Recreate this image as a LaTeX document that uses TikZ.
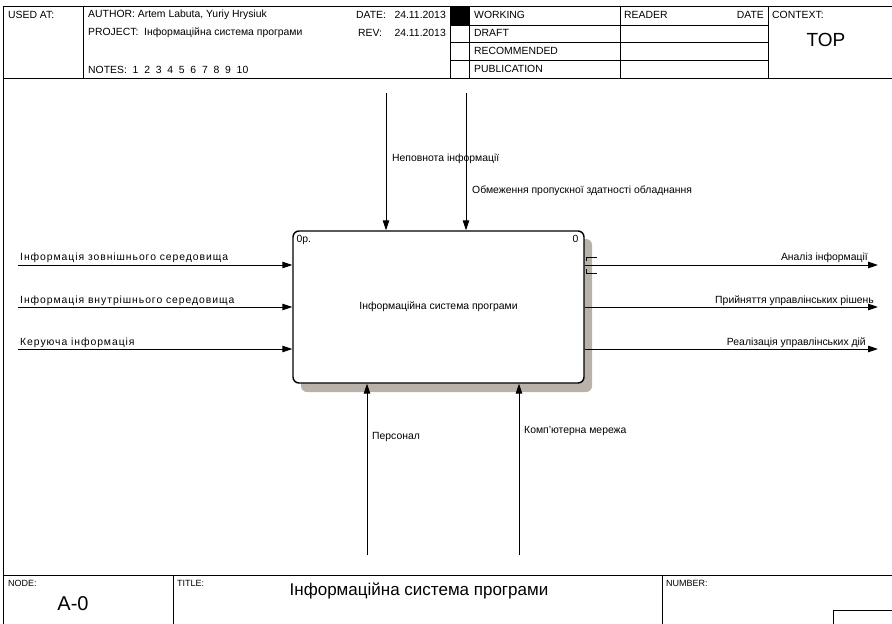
\documentclass[tikz,border=0pt]{standalone}
\usepackage{fontspec}
\setmainfont{Liberation Sans}
\newfontfamily\spaced[LetterSpace=9]{Liberation Sans}
\usetikzlibrary{arrows.meta,positioning}
\definecolor{shadowgray}{RGB}{184,178,168}

\begin{document}
\begin{tikzpicture}[x=1pt,y=-1pt,
		lbl/.style={inner sep=0pt,anchor=west,font=\fontsize{10.4}{12}\selectfont},
		inlbl/.style={lbl,font=\spaced\fontsize{10.4}{12}\selectfont},
		small/.style={inner sep=0pt,anchor=west,font=\fontsize{9}{10}\selectfont},
		big/.style={inner sep=0pt,font=\fontsize{17}{19}\selectfont},
		frm/.style={line width=0.8pt},
		flow/.style={line width=1pt,-{Triangle[length=10pt,width=6.5pt]}},
		act/.style={draw,line width=1.4pt,rounded corners=6pt,fill=white,minimum width=291pt,minimum height=152pt,inner sep=0pt,font=\fontsize{10.4}{12}\selectfont}]
	\useasboundingbox (0,0) rectangle (892,624);
	\draw[frm] (3,624) |- (892,6);
	\draw[frm] (3,78) -- (892,78);
	\foreach \xx in {83,450,469,620,768}
		\draw[frm] (\xx,6) -- (\xx,78);
	\foreach \yy in {25,42.5,60.5}
		\draw[frm] (450,\yy) -- (768,\yy);
	\fill (450,6) rectangle (469,25);
	\draw[frm] (3,575) -- (892,575);
	\draw[frm] (173,575) -- (173,624);
	\draw[frm] (662,575) -- (662,624);
	\draw[frm] (892,610) -| (833,624);
	\node[lbl] (used) at (8,15) {USED AT:};
	\node[lbl] (author) at (88,15) {AUTHOR:\ Artem Labuta, Yuriy Hrysiuk};
	\node[lbl] (project) at (88,33) {PROJECT:\ \ Інформаційна система програми};
	\node[lbl] (notes) at (88,70) {NOTES:\ \ 1\ \ 2\ \ 3\ \ 4\ \ 5\ \ 6\ \ 7\ \ 8\ \ 9\ \ 10};
	\node[lbl] (date) at (356,15) {DATE:};
	\node[lbl,anchor=east] (dateval) at (446,15) {24.11.2013};
	\node[lbl] (rev) at (358,33) {REV:};
	\node[lbl,anchor=east] (revval) at (446,33) {24.11.2013};
	\node[lbl] (working) at (474,15) {WORKING};
	\node[lbl] (draft) at (474,33) {DRAFT};
	\node[lbl] (recommended) at (474,51) {RECOMMENDED};
	\node[lbl] (publication) at (474,69) {PUBLICATION};
	\node[lbl] (reader) at (624,15) {READER};
	\node[lbl,anchor=east] (rdate) at (764,15) {DATE};
	\node[lbl] (context) at (772,15) {CONTEXT:};
	\node[big,font=\fontsize{19}{21}\selectfont] (top) at (826,40) {TOP};
	\node[small] (nodelbl) at (8,583) {NODE:};
	\node[big,font=\fontsize{20}{22}\selectfont] (nodeval) at (73,604) {A-0};
	\node[small] (titlelbl) at (177,583) {TITLE:};
	\node[big] (title) at (419,591) {Інформаційна система програми};
	\node[small] (numberlbl) at (666,583) {NUMBER:};
	\fill[shadowgray,rounded corners=6pt] (301,239) rectangle (592,392);
	\node[act] (sys) at (438.5,307) {Інформаційна система програми};
	\node[lbl,below right=5pt and 4pt of sys.north west] (cost) {0р.};
	\node[lbl,anchor=east,below left=5pt and 6pt of sys.north east] (num) {0};
	\coordinate (in1) at (18,265);
	\coordinate (in2) at (18,307);
	\coordinate (in3) at (18,349);
	\coordinate (out1) at (878,265);
	\coordinate (out2) at (878,307);
	\coordinate (out3) at (878,349);
	\coordinate (ctl1) at (386,93);
	\coordinate (ctl2) at (466,93);
	\coordinate (mech1) at (367,555);
	\coordinate (mech2) at (519,555);
	\draw[flow] (in1) -- (in1 -| sys.west);
	\draw[flow] (in2) -- (in2 -| sys.west);
	\draw[flow] (in3) -- (in3 -| sys.west);
	\draw[flow] (out1 -| sys.east) -- (out1);
	\draw[flow] (out2 -| sys.east) -- (out2);
	\draw[flow] (out3 -| sys.east) -- (out3);
	\draw[flow] (ctl1) -- (ctl1 |- sys.north);
	\draw[flow] (ctl2) -- (ctl2 |- sys.north);
	\draw[flow] (mech1) -- (mech1 |- sys.south);
	\draw[flow] (mech2) -- (mech2 |- sys.south);
	\draw[line width=0.7pt] (597,257) -| (586,261) (586,269) |- (597,273);
	\node[inlbl] (inlbl1) at (20,258) {Інформація зовнішнього середовища};
	\node[inlbl] (inlbl2) at (20,301) {Інформація внутрішнього середовища};
	\node[inlbl] (inlbl3) at (20,343) {Керуюча інформація};
	\node[lbl,anchor=east] (outlbl1) at (868,258) {Аналіз інформації};
	\node[lbl,anchor=east] (outlbl2) at (874,301) {Прийняття управлінських рішень};
	\node[lbl,anchor=east] (outlbl3) at (866,343) {Реалізація управлінських дій};
	\node[lbl] (ctllbl1) at (392,159) {Неповнота інформації};
	\node[lbl] (ctllbl2) at (472,191) {Обмеження пропускної здатності обладнання};
	\node[lbl] (mechlbl1) at (372,437) {Персонал};
	\node[lbl] (mechlbl2) at (524,431) {Комп'ютерна мережа};
\end{tikzpicture}
\end{document}
